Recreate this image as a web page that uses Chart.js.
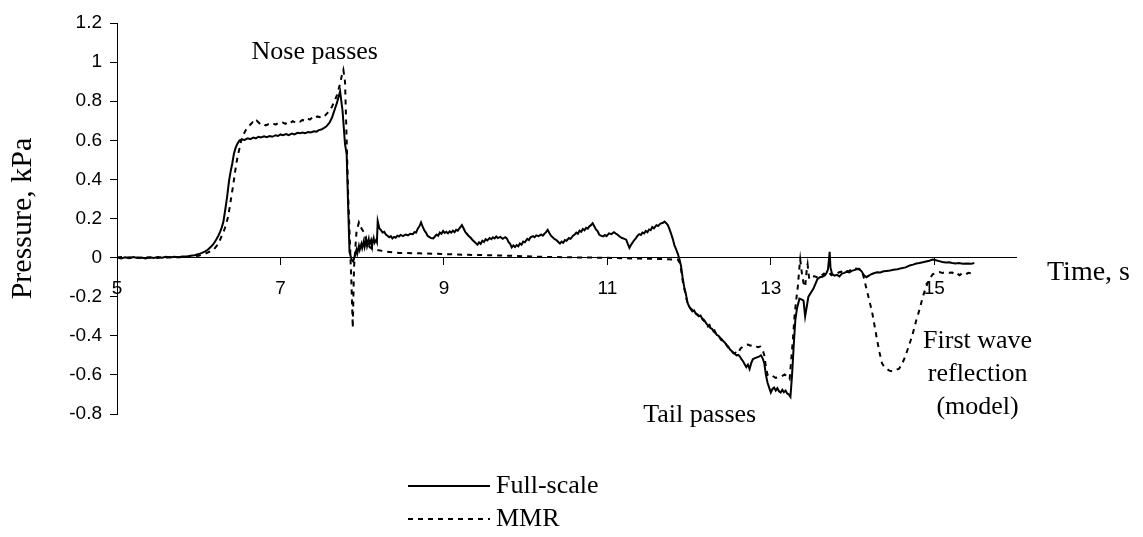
<!DOCTYPE html>
<html>
<head>
<meta charset="utf-8">
<script src="https://cdn.jsdelivr.net/npm/chart.js@4.4.1/dist/chart.umd.min.js"></script>
<style>
  html, body { margin: 0; padding: 0; background: #fff; }
  canvas { display: block; }
</style>
</head>
<body>
<canvas id="c" width="1143" height="537"></canvas>
<script>
// Pressure trace of a passing train: full-scale measurement vs. moving model rig (MMR)
// Each trace is a list of [time (s), pressure (kPa)] samples.
const seriesLabels = ['Full-scale', 'MMR'];

const fullScaleTrace = [
  [5.00, 0.000], [5.05, -0.004], [5.10, 0.002], [5.15, -0.003], [5.20, 0.003], [5.25, -0.002],
  [5.30, 0.001], [5.35, -0.004], [5.40, 0.002], [5.45, -0.002], [5.50, 0.003], [5.55, -0.001],
  [5.60, 0.004], [5.65, 0.000], [5.70, 0.004], [5.75, 0.002], [5.80, 0.006], [5.85, 0.005],
  [5.90, 0.010], [5.95, 0.012], [6.00, 0.018], [6.04, 0.024], [6.08, 0.032], [6.11, 0.040],
  [6.14, 0.052], [6.17, 0.064], [6.20, 0.082], [6.22, 0.096], [6.24, 0.112], [6.26, 0.130],
  [6.28, 0.152], [6.30, 0.180], [6.31, 0.205], [6.33, 0.260], [6.35, 0.320], [6.37, 0.390],
  [6.39, 0.440], [6.41, 0.480], [6.43, 0.530], [6.45, 0.560], [6.47, 0.580], [6.50, 0.600],
  [6.53, 0.604], [6.56, 0.602], [6.60, 0.610], [6.63, 0.606], [6.67, 0.614], [6.70, 0.610],
  [6.73, 0.618], [6.76, 0.614], [6.80, 0.620], [6.83, 0.616], [6.87, 0.622], [6.90, 0.618],
  [6.94, 0.626], [6.97, 0.622], [7.00, 0.630], [7.03, 0.626], [7.07, 0.632], [7.10, 0.626],
  [7.14, 0.634], [7.17, 0.630], [7.21, 0.638], [7.24, 0.636], [7.27, 0.640], [7.30, 0.636],
  [7.34, 0.642], [7.37, 0.640], [7.41, 0.646], [7.44, 0.644], [7.47, 0.652], [7.50, 0.655],
  [7.53, 0.662], [7.56, 0.670], [7.60, 0.690], [7.63, 0.715], [7.65, 0.740], [7.67, 0.765],
  [7.69, 0.790], [7.71, 0.820], [7.73, 0.850], [7.76, 0.750], [7.79, 0.580], [7.81, 0.530],
  [7.83, 0.240], [7.845, 0.030], [7.87, -0.010], [7.89, -0.020], [7.91, 0.010], [7.93, 0.040],
  [7.94, 0.020], [7.96, 0.060], [7.97, 0.040], [7.99, 0.070], [8.00, 0.050], [8.02, 0.085],
  [8.03, 0.055], [8.05, 0.090], [8.06, 0.060], [8.08, 0.095], [8.09, 0.065], [8.11, 0.090],
  [8.12, 0.070], [8.14, 0.100], [8.15, 0.075], [8.17, 0.090], [8.18, 0.080], [8.19, 0.186],
  [8.21, 0.150], [8.23, 0.140], [8.25, 0.128], [8.27, 0.132], [8.29, 0.118], [8.31, 0.112],
  [8.33, 0.104], [8.35, 0.110], [8.37, 0.098], [8.39, 0.106], [8.41, 0.102], [8.43, 0.112],
  [8.45, 0.108], [8.47, 0.116], [8.50, 0.110], [8.53, 0.118], [8.56, 0.114], [8.59, 0.122],
  [8.62, 0.120], [8.64, 0.130], [8.66, 0.128], [8.68, 0.148], [8.70, 0.160], [8.72, 0.180],
  [8.74, 0.158], [8.76, 0.140], [8.78, 0.128], [8.80, 0.112], [8.82, 0.106], [8.84, 0.100],
  [8.87, 0.098], [8.89, 0.108], [8.91, 0.118], [8.93, 0.112], [8.95, 0.128], [8.97, 0.122],
  [8.99, 0.136], [9.01, 0.126], [9.03, 0.132], [9.05, 0.124], [9.07, 0.134], [9.09, 0.128],
  [9.11, 0.138], [9.13, 0.130], [9.15, 0.142], [9.17, 0.138], [9.19, 0.150], [9.22, 0.166],
  [9.24, 0.150], [9.26, 0.132], [9.28, 0.122], [9.30, 0.112], [9.33, 0.100], [9.35, 0.090],
  [9.37, 0.082], [9.39, 0.074], [9.41, 0.066], [9.43, 0.078], [9.45, 0.070], [9.47, 0.086],
  [9.49, 0.080], [9.51, 0.094], [9.53, 0.088], [9.56, 0.100], [9.58, 0.094], [9.60, 0.104],
  [9.62, 0.098], [9.64, 0.108], [9.66, 0.100], [9.69, 0.106], [9.72, 0.096], [9.75, 0.104],
  [9.77, 0.098], [9.79, 0.080], [9.81, 0.070], [9.83, 0.052], [9.85, 0.062], [9.87, 0.054],
  [9.89, 0.064], [9.91, 0.058], [9.93, 0.072], [9.95, 0.066], [9.97, 0.082], [9.99, 0.078],
  [10.02, 0.096], [10.04, 0.090], [10.06, 0.104], [10.09, 0.110], [10.11, 0.104], [10.13, 0.114],
  [10.16, 0.110], [10.19, 0.118], [10.21, 0.112], [10.23, 0.122], [10.25, 0.130], [10.27, 0.142],
  [10.29, 0.126], [10.31, 0.112], [10.33, 0.104], [10.35, 0.096], [10.38, 0.088], [10.40, 0.080],
  [10.42, 0.072], [10.44, 0.082], [10.46, 0.076], [10.48, 0.090], [10.50, 0.086], [10.53, 0.100],
  [10.55, 0.096], [10.58, 0.112], [10.60, 0.118], [10.62, 0.128], [10.64, 0.122], [10.66, 0.138],
  [10.68, 0.132], [10.70, 0.146], [10.72, 0.140], [10.74, 0.152], [10.76, 0.148], [10.78, 0.160],
  [10.80, 0.166], [10.82, 0.176], [10.84, 0.160], [10.86, 0.144], [10.88, 0.136], [10.90, 0.118],
  [10.92, 0.112], [10.95, 0.108], [10.97, 0.116], [10.99, 0.110], [11.02, 0.124], [11.05, 0.120],
  [11.08, 0.130], [11.10, 0.124], [11.13, 0.116], [11.15, 0.108], [11.18, 0.100], [11.21, 0.096],
  [11.23, 0.092], [11.25, 0.070], [11.27, 0.050], [11.29, 0.066], [11.31, 0.078], [11.33, 0.090],
  [11.35, 0.100], [11.37, 0.112], [11.39, 0.120], [11.41, 0.116], [11.43, 0.128], [11.45, 0.124],
  [11.47, 0.136], [11.49, 0.130], [11.51, 0.144], [11.53, 0.140], [11.55, 0.156], [11.57, 0.150],
  [11.60, 0.166], [11.62, 0.162], [11.65, 0.174], [11.68, 0.178], [11.70, 0.184], [11.72, 0.176],
  [11.74, 0.166], [11.76, 0.146], [11.78, 0.122], [11.80, 0.096], [11.82, 0.064], [11.84, 0.044],
  [11.86, 0.022], [11.88, -0.005], [11.90, -0.040], [11.92, -0.100], [11.94, -0.150], [11.96, -0.185],
  [11.98, -0.230], [12.00, -0.250], [12.02, -0.262], [12.04, -0.275], [12.06, -0.270], [12.08, -0.285],
  [12.10, -0.290], [12.12, -0.300], [12.14, -0.296], [12.16, -0.312], [12.18, -0.318], [12.20, -0.330],
  [12.22, -0.342], [12.24, -0.348], [12.26, -0.360], [12.28, -0.364], [12.30, -0.378], [12.32, -0.384],
  [12.34, -0.396], [12.36, -0.400], [12.38, -0.412], [12.40, -0.418], [12.42, -0.428], [12.44, -0.436],
  [12.46, -0.448], [12.48, -0.456], [12.50, -0.470], [12.52, -0.478], [12.54, -0.488], [12.56, -0.492],
  [12.58, -0.500], [12.60, -0.498], [12.62, -0.505], [12.64, -0.520], [12.66, -0.530], [12.68, -0.545],
  [12.70, -0.560], [12.72, -0.548], [12.74, -0.570], [12.76, -0.540], [12.78, -0.520], [12.80, -0.515],
  [12.83, -0.510], [12.86, -0.505], [12.88, -0.500], [12.90, -0.515], [12.92, -0.540], [12.94, -0.600],
  [12.96, -0.640], [12.98, -0.665], [13.00, -0.690], [13.02, -0.672], [13.04, -0.665], [13.06, -0.680],
  [13.08, -0.668], [13.10, -0.684], [13.12, -0.690], [13.14, -0.676], [13.16, -0.688], [13.18, -0.680],
  [13.20, -0.695], [13.22, -0.700], [13.24, -0.712], [13.26, -0.600], [13.28, -0.450], [13.30, -0.320],
  [13.32, -0.260], [13.35, -0.210], [13.38, -0.215], [13.40, -0.220], [13.42, -0.300], [13.44, -0.250],
  [13.46, -0.200], [13.49, -0.180], [13.52, -0.160], [13.55, -0.130], [13.57, -0.110], [13.60, -0.100],
  [13.63, -0.098], [13.66, -0.092], [13.68, -0.080], [13.70, -0.060], [13.72, 0.030], [13.73, -0.050],
  [13.75, -0.085], [13.78, -0.092], [13.81, -0.088], [13.84, -0.096], [13.87, -0.082], [13.90, -0.078],
  [13.93, -0.072], [13.96, -0.076], [13.99, -0.068], [14.02, -0.064], [14.05, -0.060], [14.08, -0.058],
  [14.11, -0.070], [14.14, -0.090], [14.17, -0.100], [14.20, -0.092], [14.23, -0.085], [14.26, -0.080],
  [14.30, -0.075], [14.34, -0.076], [14.38, -0.070], [14.42, -0.068], [14.46, -0.066], [14.50, -0.062],
  [14.55, -0.060], [14.60, -0.054], [14.65, -0.050], [14.70, -0.040], [14.74, -0.036], [14.78, -0.030],
  [14.82, -0.028], [14.86, -0.024], [14.90, -0.020], [14.94, -0.016], [14.98, -0.010], [15.02, -0.014],
  [15.06, -0.018], [15.10, -0.022], [15.14, -0.025], [15.18, -0.024], [15.22, -0.028], [15.26, -0.030],
  [15.30, -0.028], [15.35, -0.032], [15.40, -0.030], [15.45, -0.032], [15.49, -0.028]
];

const mmrTrace = [
  [5.00, 0.000], [5.05, 0.003], [5.10, -0.002], [5.15, 0.002], [5.20, -0.003], [5.25, 0.001],
  [5.30, -0.002], [5.35, 0.003], [5.40, -0.001], [5.45, 0.002], [5.50, -0.002], [5.55, 0.002],
  [5.60, -0.001], [5.65, 0.003], [5.70, 0.001], [5.75, 0.003], [5.80, 0.002], [5.85, 0.004],
  [5.90, 0.005], [5.95, 0.007], [6.00, 0.010], [6.04, 0.014], [6.08, 0.020], [6.13, 0.030],
  [6.18, 0.040], [6.21, 0.055], [6.24, 0.070], [6.26, 0.090], [6.28, 0.110], [6.30, 0.128],
  [6.32, 0.150], [6.34, 0.178], [6.36, 0.210], [6.38, 0.260], [6.40, 0.315], [6.42, 0.365],
  [6.44, 0.425], [6.46, 0.480], [6.48, 0.525], [6.50, 0.560], [6.52, 0.600], [6.54, 0.622],
  [6.56, 0.640], [6.58, 0.655], [6.60, 0.664], [6.63, 0.680], [6.66, 0.692], [6.69, 0.686],
  [6.71, 0.700], [6.73, 0.692], [6.76, 0.680], [6.79, 0.684], [6.82, 0.676], [6.85, 0.682],
  [6.88, 0.678], [6.91, 0.686], [6.94, 0.680], [6.97, 0.688], [7.00, 0.684], [7.03, 0.690],
  [7.06, 0.684], [7.09, 0.694], [7.12, 0.688], [7.15, 0.698], [7.18, 0.692], [7.21, 0.700],
  [7.24, 0.696], [7.27, 0.704], [7.30, 0.700], [7.33, 0.712], [7.36, 0.706], [7.39, 0.716],
  [7.42, 0.710], [7.45, 0.722], [7.48, 0.718], [7.51, 0.728], [7.54, 0.724], [7.57, 0.738],
  [7.60, 0.750], [7.63, 0.772], [7.65, 0.790], [7.67, 0.808], [7.69, 0.830], [7.71, 0.860],
  [7.73, 0.890], [7.75, 0.930], [7.77, 0.960], [7.79, 0.900], [7.81, 0.600], [7.83, 0.300],
  [7.85, 0.080], [7.87, -0.150], [7.885, -0.360], [7.90, -0.050], [7.93, 0.130], [7.96, 0.180],
  [7.99, 0.150], [8.02, 0.130], [8.05, 0.090], [8.08, 0.060], [8.12, 0.045], [8.20, 0.038],
  [8.30, 0.030], [8.45, 0.024], [8.70, 0.022], [9.00, 0.018], [9.30, 0.014], [9.60, 0.012],
  [9.90, 0.008], [10.20, 0.004], [10.50, 0.002], [10.80, 0.000], [11.10, -0.002], [11.40, -0.005],
  [11.70, -0.008], [11.86, -0.010], [11.89, -0.030], [11.91, -0.085], [11.93, -0.140], [11.95, -0.175],
  [11.97, -0.215], [11.99, -0.240], [12.01, -0.255], [12.03, -0.268], [12.05, -0.262], [12.07, -0.280],
  [12.09, -0.290], [12.11, -0.296], [12.13, -0.290], [12.15, -0.305], [12.17, -0.320], [12.19, -0.326],
  [12.21, -0.340], [12.23, -0.352], [12.25, -0.345], [12.27, -0.368], [12.29, -0.375], [12.31, -0.372],
  [12.33, -0.390], [12.35, -0.398], [12.37, -0.405], [12.39, -0.420], [12.41, -0.426], [12.43, -0.440],
  [12.45, -0.442], [12.47, -0.455], [12.49, -0.465], [12.51, -0.475], [12.53, -0.482], [12.55, -0.490],
  [12.57, -0.486], [12.59, -0.492], [12.61, -0.480], [12.63, -0.465], [12.66, -0.455], [12.69, -0.448],
  [12.72, -0.445], [12.75, -0.450], [12.78, -0.446], [12.81, -0.452], [12.84, -0.458], [12.87, -0.455],
  [12.90, -0.470], [12.92, -0.500], [12.94, -0.560], [12.96, -0.600], [12.99, -0.610], [13.02, -0.605],
  [13.06, -0.615], [13.10, -0.612], [13.14, -0.605], [13.17, -0.598], [13.20, -0.610], [13.23, -0.622],
  [13.25, -0.520], [13.27, -0.420], [13.29, -0.300], [13.31, -0.220], [13.33, -0.150], [13.35, -0.050],
  [13.36, -0.010], [13.38, -0.080], [13.40, -0.130], [13.42, -0.150], [13.44, -0.060], [13.45, -0.035],
  [13.47, -0.110], [13.50, -0.105], [13.53, -0.095], [13.56, -0.100], [13.59, -0.088], [13.62, -0.092],
  [13.65, -0.082], [13.68, -0.086], [13.71, -0.075], [13.74, -0.090], [13.77, -0.082], [13.80, -0.086],
  [13.83, -0.076], [13.86, -0.072], [13.89, -0.078], [13.92, -0.068], [13.95, -0.070], [13.98, -0.062],
  [14.01, -0.064], [14.04, -0.056], [14.07, -0.058], [14.10, -0.062], [14.13, -0.090], [14.165, -0.150],
  [14.20, -0.210], [14.24, -0.280], [14.27, -0.350], [14.30, -0.420], [14.33, -0.485], [14.36, -0.540],
  [14.39, -0.560], [14.42, -0.570], [14.45, -0.578], [14.49, -0.582], [14.53, -0.575], [14.57, -0.568],
  [14.61, -0.540], [14.65, -0.500], [14.69, -0.450], [14.73, -0.400], [14.78, -0.320], [14.82, -0.265],
  [14.86, -0.200], [14.90, -0.150], [14.94, -0.110], [14.98, -0.086], [15.02, -0.078], [15.06, -0.074],
  [15.10, -0.078], [15.14, -0.074], [15.18, -0.078], [15.22, -0.076], [15.25, -0.088], [15.28, -0.082],
  [15.31, -0.090], [15.34, -0.080], [15.38, -0.086], [15.42, -0.078], [15.46, -0.082], [15.49, -0.076]
];

const xTickValues = [5, 7, 9, 11, 13, 15];
const xTitle = 'Time, s';
const yTitle = 'Pressure, kPa';
const notes = [
  { lines: ['Nose passes'], t: 7.42, p: 1.018 },
  { lines: ['Tail passes'], t: 12.13, p: -0.84 },
  { lines: ['First wave', 'reflection', '(model)'], t: 15.53, p: -0.46 }
];

const serif = '"Liberation Serif", "Times New Roman", serif';
const sans = '"Liberation Sans", Arial, sans-serif';

const toPoints = trace => trace.map(([t, p]) => ({ x: t, y: p }));

// Axis title at the right end of the time axis, annotations and the stacked legend
const overlayText = {
  id: 'overlayText',
  afterDraw(chart) {
    const { ctx, scales } = chart;
    const xs = scales.x, ys = scales.y;
    ctx.save();
    ctx.fillStyle = '#000';
    ctx.textBaseline = 'alphabetic';

    // time axis title
    ctx.font = '28px ' + serif;
    ctx.textAlign = 'left';
    ctx.fillText(xTitle, chart.chartArea.right + 31, ys.getPixelForValue(0) + 22);

    // annotations
    ctx.font = '26px ' + serif;
    ctx.textAlign = 'center';
    notes.forEach(n => {
      const x = xs.getPixelForValue(n.t);
      const y0 = ys.getPixelForValue(n.p);
      n.lines.forEach((line, i) => ctx.fillText(line, x, y0 + i * 33));
    });

    // legend
    const lx = 408, lw = 82;
    const rows = [486, 519];
    chart.data.datasets.forEach((ds, i) => {
      const y = rows[i];
      ctx.beginPath();
      ctx.lineWidth = 2;
      ctx.strokeStyle = '#000';
      ctx.setLineDash(ds.borderDash || []);
      ctx.moveTo(lx, y);
      ctx.lineTo(lx + lw, y);
      ctx.stroke();
      ctx.setLineDash([]);
      ctx.font = '26px ' + serif;
      ctx.textAlign = 'left';
      ctx.textBaseline = 'middle';
      ctx.fillText(ds.label, lx + lw + 6, y);
    });
    ctx.restore();
  }
};

new Chart(document.getElementById('c'), {
  type: 'line',
  data: {
    datasets: [
      {
        label: seriesLabels[0],
        data: toPoints(fullScaleTrace),
        borderColor: '#000',
        borderWidth: 2,
        pointRadius: 0,
        tension: 0,
        fill: false
      },
      {
        label: seriesLabels[1],
        data: toPoints(mmrTrace),
        borderColor: '#000',
        borderWidth: 2,
        borderDash: [5, 5],
        pointRadius: 0,
        tension: 0,
        fill: false
      }
    ]
  },
  options: {
    responsive: false,
    devicePixelRatio: 1,
    animation: false,
    layout: { padding: { top: 23, right: 127, bottom: 123, left: 0 } },
    plugins: {
      legend: { display: false },
      tooltip: { enabled: false },
      title: { display: false }
    },
    scales: {
      x: {
        type: 'linear',
        position: { y: 0 },
        min: 5,
        max: 16,
        afterBuildTicks(scale) {
          scale.ticks = xTickValues.map(v => ({ value: v }));
        },
        ticks: {
          color: '#000',
          font: { family: sans, size: 19 },
          padding: 13,
          maxRotation: 0,
          autoSkip: false,
          callback: v => String(v)
        },
        grid: { drawOnChartArea: false, drawTicks: true, tickLength: 7, color: '#000' },
        border: { display: true, color: '#000', width: 1 }
      },
      y: {
        type: 'linear',
        position: 'left',
        min: -0.8,
        max: 1.2,
        afterFit(scale) { scale.width = 117; },
        ticks: {
          stepSize: 0.2,
          color: '#000',
          font: { family: sans, size: 19 },
          padding: 8,
          callback: v => String(Number(v.toFixed(1)))
        },
        title: {
          display: true,
          text: yTitle,
          color: '#000',
          font: { family: serif, size: 30 },
          padding: { top: 5, bottom: 0 }
        },
        grid: { drawOnChartArea: false, drawTicks: true, tickLength: 7, color: '#000' },
        border: { display: true, color: '#000', width: 1 }
      }
    }
  },
  plugins: [overlayText]
});
</script>
</body>
</html>
